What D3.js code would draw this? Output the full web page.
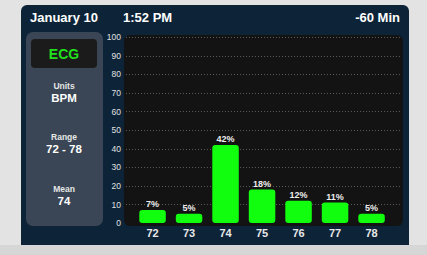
<!DOCTYPE html>
<html>
<head>
<meta charset="utf-8">
<script src="https://cdn.jsdelivr.net/npm/d3@7"></script>
<style>
  html, body { margin: 0; padding: 0; background: #e3e3e3; }
  svg { display: block; font-family: "Liberation Sans", Arial, sans-serif; }
</style>
</head>
<body>
<svg id="canvas" width="427" height="255"></svg>
<script>
const bpmLabels = ['72', '73', '74', '75', '76', '77', '78'];
const percentValues = [7, 5, 42, 18, 12, 11, 5];
const yTicks = [0, 10, 20, 30, 40, 50, 60, 70, 80, 90, 100];
const headerTexts = ['January 10', '1:52 PM', '-60 Min'];
const sideInfo = [
  { label: 'Units', value: 'BPM' },
  { label: 'Range', value: '72 - 78' },
  { label: 'Mean', value: '74' }
];

let canvas = d3.select('#canvas');

// outer page + dark panel
canvas.append('rect').attr('x', 0).attr('y', 245).attr('width', 427).attr('height', 10).attr('fill', '#d6d6d6');
canvas.append('rect')
  .attr('x', 21).attr('y', 5).attr('width', 388).attr('height', 240)
  .attr('rx', 6).attr('fill', '#0d2438');
canvas.append('rect')
  .attr('x', 21).attr('y', 230).attr('width', 388).attr('height', 15)
  .attr('fill', '#0d2438');

// header
canvas.selectAll('text.header')
  .data(headerTexts)
  .enter().append('text')
  .attr('class', 'header')
  .attr('x', (d, i) => [30, 123, 400][i])
  .attr('y', 22)
  .attr('text-anchor', (d, i) => i === 2 ? 'end' : 'start')
  .attr('fill', '#ffffff')
  .attr('font-size', 13)
  .attr('font-weight', 'bold')
  .text(d => d);

// side panel
canvas.append('rect')
  .attr('x', 26).attr('y', 32).attr('width', 77).attr('height', 194)
  .attr('rx', 7).attr('fill', '#3a4655');
canvas.append('rect')
  .attr('x', 31).attr('y', 39).attr('width', 66).attr('height', 29)
  .attr('rx', 4).attr('fill', '#1b1b1b');
canvas.append('text')
  .attr('x', 64).attr('y', 59)
  .attr('text-anchor', 'middle')
  .attr('fill', '#22e01c').attr('font-size', 14).attr('font-weight', 'bold')
  .text('ECG');

const info = canvas.selectAll('g.info')
  .data(sideInfo)
  .enter().append('g')
  .attr('class', 'info')
  .attr('transform', (d, i) => `translate(64, ${[89, 140, 192][i]})`);
info.append('text')
  .attr('text-anchor', 'middle')
  .attr('fill', '#e6e6e6').attr('font-size', 8.5).attr('font-weight', 'bold')
  .text(d => d.label);
info.append('text')
  .attr('y', 13)
  .attr('text-anchor', 'middle')
  .attr('fill', '#ffffff').attr('font-size', 11.5).attr('font-weight', 'bold')
  .text(d => d.value);

// plot area
const plot = { left: 124, right: 403, top: 35, bottom: 226 };
canvas.append('rect')
  .attr('x', plot.left).attr('y', plot.top)
  .attr('width', plot.right - plot.left).attr('height', plot.bottom - plot.top)
  .attr('rx', 6).attr('fill', '#131313');

const yScale = d3.scaleLinear().domain([0, 100]).range([223, 37]);
const xScale = d3.scaleBand().domain(bpmLabels).range([129.3, 394.8])
  .paddingInner(0.274).paddingOuter(0.274);

// grid
canvas.selectAll('line.grid')
  .data(yTicks.filter(t => t > 0))
  .enter().append('line')
  .attr('class', 'grid')
  .attr('x1', plot.left + 2).attr('x2', plot.right - 2)
  .attr('y1', d => Math.round(yScale(d)) + 0.5).attr('y2', d => Math.round(yScale(d)) + 0.5)
  .attr('stroke', '#5a5a5a').attr('stroke-width', 1)
  .attr('stroke-dasharray', '1,2');

// y axis
const yAxis = canvas.append('g')
  .attr('transform', 'translate(121, 0)')
  .call(d3.axisLeft(yScale).tickValues(yTicks).tickSize(0).tickPadding(0));
yAxis.select('.domain').remove();
yAxis.selectAll('text')
  .attr('fill', '#e0e0e0').attr('font-size', 8.5)
  .attr('font-family', '"Liberation Sans", Arial, sans-serif');

// bars
const bars = canvas.selectAll('g.bar')
  .data(percentValues)
  .enter().append('g')
  .attr('class', 'bar');
bars.append('rect')
  .attr('x', (d, i) => xScale(bpmLabels[i]))
  .attr('y', d => yScale(d))
  .attr('width', xScale.bandwidth())
  .attr('height', d => yScale(0) - yScale(d))
  .attr('rx', 3)
  .attr('fill', '#11ff0e');
bars.append('text')
  .attr('x', (d, i) => xScale(bpmLabels[i]) + xScale.bandwidth() / 2)
  .attr('y', d => yScale(d) - 3)
  .attr('text-anchor', 'middle')
  .attr('fill', '#eeeeee').attr('font-size', 9).attr('font-weight', 'bold')
  .text(d => d + '%');

// x axis
const xAxis = canvas.append('g')
  .attr('transform', 'translate(0, 229)')
  .call(d3.axisBottom(xScale).tickSize(0).tickPadding(0));
xAxis.select('.domain').remove();
xAxis.selectAll('text')
  .attr('dy', '0.71em')
  .attr('fill', '#e8e8e8').attr('font-size', 11).attr('font-weight', 'bold')
  .attr('font-family', '"Liberation Sans", Arial, sans-serif');
</script>
</body>
</html>
